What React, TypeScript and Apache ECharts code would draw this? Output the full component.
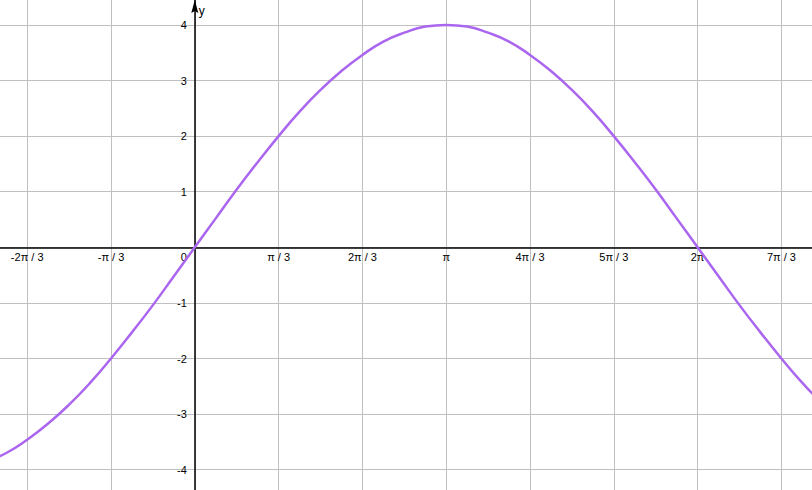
import React, { useEffect, useRef } from 'react';
import * as echarts from 'echarts';

// x positions in units of π/3, sampled every π/12
const xSteps = [
  -2.5, -2.25, -2, -1.75, -1.5, -1.25, -1, -0.75, -0.5, -0.25,
  0, 0.25, 0.5, 0.75, 1, 1.25, 1.5, 1.75, 2, 2.25,
  2.5, 2.75, 3, 3.25, 3.5, 3.75, 4, 4.25, 4.5, 4.75,
  5, 5.25, 5.5, 5.75, 6, 6.25, 6.5, 6.75, 7, 7.25, 7.5,
];

// curve values
const yValues = [
  -3.86, -3.7, -3.46, -3.17, -2.83, -2.44, -2, -1.53, -1.04, -0.52,
  0, 0.52, 1.04, 1.53, 2, 2.44, 2.83, 3.17, 3.46, 3.7,
  3.86, 3.97, 4, 3.97, 3.86, 3.7, 3.46, 3.17, 2.83, 2.44,
  2, 1.53, 1.04, 0.52, 0, -0.52, -1.04, -1.53, -2, -2.44, -2.83,
];

// tick labels on the x axis, keyed by the π/3 multiple
const xTickValues = [-2, -1, 0, 1, 2, 3, 4, 5, 6, 7];
const xTickLabels = ['-2π / 3', '-π / 3', '0', 'π / 3', '2π / 3', 'π', '4π / 3', '5π / 3', '2π', '7π / 3'];

const X_MIN = -3;
const X_MAX = 8;
const Y_MIN = -5;
const Y_MAX = 5;

const FONT = '"Liberation Sans", Arial, sans-serif';
const W = 812;
const H = 490;
const GRID = { left: -56.6, right: -53.2, top: -30.7, bottom: -35.3 };

const App: React.FC = () => {
  const chartRef = useRef<HTMLDivElement>(null);

  useEffect(() => {
    if (!chartRef.current) return;
    const chart = echarts.init(chartRef.current, null, { renderer: 'svg' });

    // where the origin falls inside the grid, so the axes can sit on it
    const gridW = W - GRID.left - GRID.right;
    const gridH = H - GRID.top - GRID.bottom;
    const fromLeft = ((0 - X_MIN) / (X_MAX - X_MIN)) * gridW;
    const fromBottom = ((0 - Y_MIN) / (Y_MAX - Y_MIN)) * gridH;
    const ox = GRID.left + fromLeft;

    const option = {
      animation: false,
      backgroundColor: '#ffffff',
      grid: {
        ...GRID,
        containLabel: false,
        outerBoundsMode: 'none',
      },
      xAxis: {
        type: 'value',
        min: X_MIN,
        max: X_MAX,
        interval: 1,
        position: 'bottom',
        offset: -fromBottom,
        axisLine: { show: true, onZero: false, lineStyle: { color: '#000', width: 1.5 } },
        axisTick: { show: false },
        splitLine: { show: true, lineStyle: { color: '#c0c0c0', width: 1 } },
        axisLabel: {
          margin: 4,
          color: '#000',
          fontSize: 11,
          fontFamily: FONT,
          formatter: (v: number) => {
            const i = xTickValues.indexOf(v);
            if (i < 0) return '';
            return v === 0 ? '{zero|0}' : xTickLabels[i];
          },
          rich: {
            zero: { padding: [0, 22, 0, 0], fontSize: 11, fontFamily: FONT, color: '#000' },
          },
        },
      },
      yAxis: {
        type: 'value',
        min: Y_MIN,
        max: Y_MAX,
        interval: 1,
        position: 'left',
        offset: -fromLeft,
        axisLine: { show: true, onZero: false, lineStyle: { color: '#000', width: 1.5 } },
        axisTick: { show: false },
        splitLine: { show: true, lineStyle: { color: '#c0c0c0', width: 1 } },
        axisLabel: {
          margin: 8,
          color: '#000',
          fontSize: 11,
          fontFamily: FONT,
          formatter: (v: number) => (v === 0 || Math.abs(v) > 4 ? '' : String(v)),
        },
      },
      graphic: [
        {
          type: 'polygon',
          shape: { points: [[ox, 0], [ox - 3.5, 13], [ox, 11], [ox + 3.5, 13]] },
          style: { fill: '#000' },
          z: 10,
        },
        {
          type: 'text',
          x: ox + 4,
          y: 5,
          style: { text: 'y', fontSize: 12, fontFamily: FONT, fill: '#000' },
          z: 10,
        },
      ],
      series: [
        {
          type: 'line',
          data: xSteps.map((x, i) => [x, yValues[i]]),
          smooth: true,
          showSymbol: false,
          lineStyle: { color: '#aa66ee', width: 2.5 },
          clip: true,
          z: 5,
        },
      ],
    };

    chart.setOption(option);

    return () => {
      chart.dispose();
    };
  }, []);

  return (
    <div
      ref={chartRef}
      style={{ position: 'fixed', left: 0, top: 0, width: W + 'px', height: H + 'px' }}
    />
  );
};

export default App;
